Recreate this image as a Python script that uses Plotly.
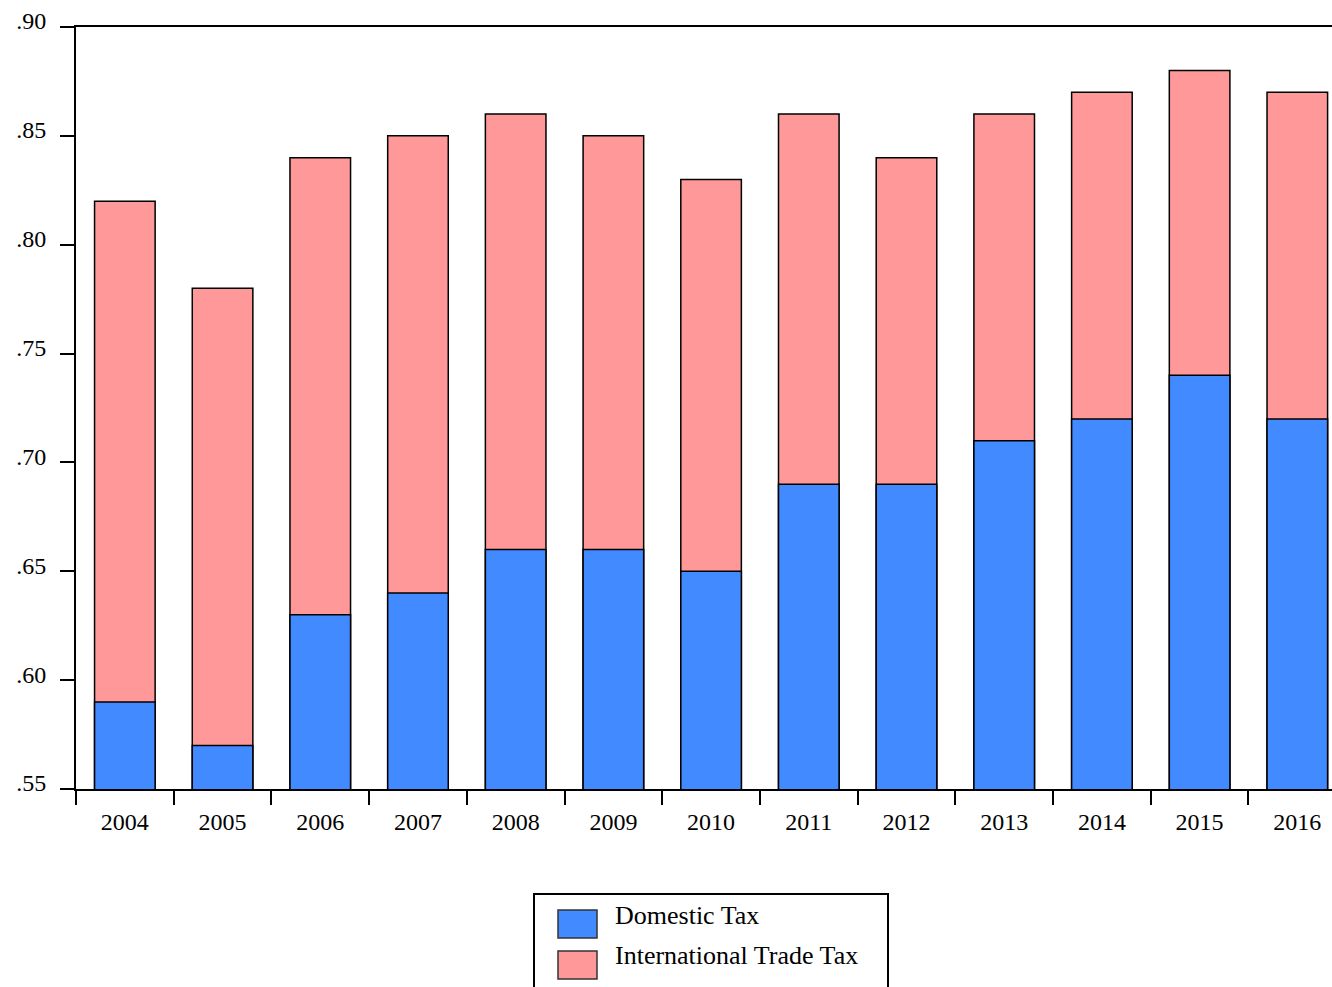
import plotly.graph_objects as go

years = ["2004", "2005", "2006", "2007", "2008", "2009", "2010",
         "2011", "2012", "2013", "2014", "2015", "2016"]
domestic_tax = [0.59, 0.57, 0.63, 0.64, 0.66, 0.66, 0.65, 0.69, 0.69, 0.71, 0.72, 0.74, 0.72]
total_tax = [0.82, 0.78, 0.84, 0.85, 0.86, 0.85, 0.83, 0.86, 0.84, 0.86, 0.87, 0.88, 0.87]
y_tick_vals = [0.55, 0.60, 0.65, 0.70, 0.75, 0.80, 0.85, 0.90]
y_tick_text = [".55", ".60", ".65", ".70", ".75", ".80", ".85", ".90"]

BLUE = "#418AFF"
PINK = "#FF9999"
FONT = "Liberation Serif"

fig = go.Figure()
fig.add_trace(go.Bar(x=years, y=total_tax, name="International Trade Tax",
                     marker=dict(color=PINK, line=dict(color="black", width=1.5)),
                     width=0.62, showlegend=False))
fig.add_trace(go.Bar(x=years, y=domestic_tax, name="Domestic Tax",
                     marker=dict(color=BLUE, line=dict(color="black", width=1.5)),
                     width=0.62, showlegend=False))

W, H = 1332, 987
L, R, T, B = 76, 0, 27, 198
pw, ph = W - L - R, H - T - B

def px(x):
    return (x - L) / pw

def py(y):
    return (H - B - y) / ph

shapes = [
    dict(type="rect", xref="paper", yref="paper", x0=px(534), x1=px(888), y0=py(1000), y1=py(894),
         line=dict(color="black", width=2), fillcolor="white"),
    dict(type="rect", xref="paper", yref="paper", x0=px(558), x1=px(597), y0=py(938), y1=py(910),
         line=dict(color="#333333", width=1.5), fillcolor=BLUE),
    dict(type="rect", xref="paper", yref="paper", x0=px(558), x1=px(597), y0=py(979), y1=py(951),
         line=dict(color="#333333", width=1.5), fillcolor=PINK),
]
annotations = [
    dict(xref="paper", yref="paper", x=px(613), y=py(915), text="Domestic Tax", showarrow=False,
         xanchor="left", yanchor="middle", font=dict(family=FONT, size=26, color="black")),
    dict(xref="paper", yref="paper", x=px(613), y=py(956), text="International Trade Tax", showarrow=False,
         xanchor="left", yanchor="middle", font=dict(family=FONT, size=26, color="black")),
]

tick_font = dict(family=FONT, size=24, color="black")

fig.update_layout(
    width=W, height=H,
    margin=dict(l=L, r=R, t=T, b=B, pad=0),
    barmode="overlay",
    plot_bgcolor="white", paper_bgcolor="white",
    font=dict(family=FONT, size=24, color="black"),
    shapes=shapes, annotations=annotations,
    showlegend=False,
)
fig.update_xaxes(
    type="category", range=[-0.5, 12.355],
    showline=True, linecolor="black", linewidth=2, mirror=True,
    ticks="outside", tickson="boundaries", ticklen=14, tickwidth=1.5, tickcolor="black",
    showgrid=False, zeroline=False, ticklabelstandoff=10, tickfont=tick_font,
)
fig.update_yaxes(
    range=[0.55, 0.90], tickvals=y_tick_vals, ticktext=y_tick_text,
    showline=True, linecolor="black", linewidth=2,
    ticks="outside", ticklen=14, tickwidth=1.5, tickcolor="black",
    showgrid=False, zeroline=False, ticklabelstandoff=9, ticklabelshift=-6,
    tickfont=tick_font,
)

fig.write_html("out.html",
               config={"displayModeBar": False},
               post_script="document.body.style.margin='0';document.body.style.overflow='hidden';")
